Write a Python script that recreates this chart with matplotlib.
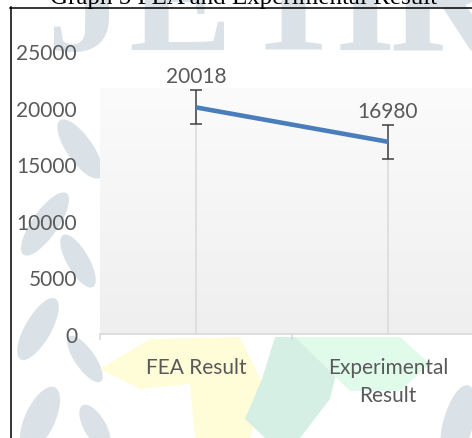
import numpy as np
import matplotlib
matplotlib.use("Agg")
import matplotlib.pyplot as plt
from matplotlib.patches import Ellipse, Polygon
from matplotlib.lines import Line2D
from matplotlib.colors import LinearSegmentedColormap

# ---- data ----
categories = ["FEA Result", "Experimental\nResult"]
values = [20018, 16980]
errors = [1500, 1500]
yticks = [0, 5000, 10000, 15000, 20000, 25000]
title = "Graph 5 FEA and Experimental Result"

W, H = 472, 439
fig = plt.figure(figsize=(W / 100, H / 100), dpi=100)

# background layer in pixel coordinates (watermark + frame)
bg = fig.add_axes([0, 0, 1, 1], zorder=0)
bg.set_xlim(0, W)
bg.set_ylim(H, 0)
bg.axis("off")

wm = "#dbe2e7"
for ch, x in zip("JETIR", [85, 180, 293, 365, 445]):
    bg.text(x, 50, ch, fontsize=112, family="Liberation Serif", fontweight="bold",
            color=wm, ha="center", va="baseline", zorder=1)

# leaf-like watermark shapes
leaves = [((80, 150), 26, 70, -35), ((45, 225), 26, 75, 35), ((78, 262), 22, 60, -30),
          ((38, 330), 26, 70, 30), ((85, 360), 20, 55, -35), ((40, 420), 30, 70, 25),
          ((95, 428), 22, 50, -30), ((458, 425), 30, 80, 15)]
for (cx, cy), w, h, ang in leaves:
    bg.add_patch(Ellipse((cx, cy), w, h, angle=ang, color=wm, lw=0, zorder=1))

bg.add_patch(Polygon([(100, 370), (150, 340), (240, 338), (265, 390), (250, 439),
                      (195, 439), (190, 385), (140, 390)], closed=True,
                     color="#fffcd8", lw=0, zorder=1))
bg.add_patch(Polygon([(275, 338), (345, 338), (330, 400), (300, 439), (265, 439),
                      (245, 420), (262, 380)], closed=True,
                     color="#d6efe4", lw=0, zorder=1))
bg.add_patch(Polygon([(295, 338), (400, 338), (430, 365), (400, 392), (350, 392)],
                     closed=True, color="#e1fbea", lw=0, zorder=1))

bg.add_line(Line2D([10.5, 10.5], [8, H], color="black", lw=1.1, zorder=3))
bg.add_line(Line2D([10, W], [8.5, 8.5], color="black", lw=1.1, zorder=3))

fig.text(244 / W, 1 - 4 / H, title, family="Liberation Serif", fontsize=18,
         color="black", ha="center", va="baseline")

# main chart
ax = fig.add_axes([100 / W, 104 / H, 384 / W, 283 / H], zorder=1)
ax.set_facecolor("none")
x = np.arange(len(categories))

# plot-area gradient
grad = np.linspace(0, 1, 256).reshape(-1, 1)
cmap = LinearSegmentedColormap.from_list("g", ["#efefef", "#fbfbfb"])
ax.imshow(grad, cmap=cmap, aspect="auto", extent=[-0.5, 1.5, 0, 21650],
          origin="lower", zorder=0)
ax.set_xlim(-0.5, 1.5)
ax.set_ylim(0, 25000)

ax.vlines(x, 0, values, color="#d9d9d9", lw=1.1, zorder=1)
ax.errorbar(x, values, yerr=errors, fmt="none", ecolor="#404040", elinewidth=1.1,
            capsize=4.3, capthick=1.1, zorder=2)
ax.plot(x, values, color="#4a7ebb", lw=3.3, solid_capstyle="butt", zorder=3)

for xi, v in zip(x, values):
    ax.annotate(f"{v}", (xi, v), xytext=(0, 22.5), textcoords="offset points",
                ha="center", va="center", family="Lato", fontsize=15, color="#595959")

for s in ["left", "right", "top"]:
    ax.spines[s].set_visible(False)
ax.spines["bottom"].set_color("#d9d9d9")
ax.spines["bottom"].set_linewidth(1.2)

ax.set_yticks(yticks)
ax.set_yticklabels([str(t) for t in yticks])
ax.tick_params(axis="y", length=0, pad=16.5, labelcolor="#595959", labelsize=15)
ax.set_xticks(x)
ax.set_xticklabels(categories, linespacing=1.5)
ax.tick_params(axis="x", which="major", length=0, pad=16.5, labelcolor="#595959", labelsize=15)
ax.set_xticks([-0.5, 0.5, 1.5], minor=True)
ax.tick_params(axis="x", which="minor", length=4.5, width=1.2, color="#d9d9d9")
for lab in ax.get_xticklabels() + ax.get_yticklabels():
    lab.set_family("Lato")

fig.savefig("out.png", dpi=100)
